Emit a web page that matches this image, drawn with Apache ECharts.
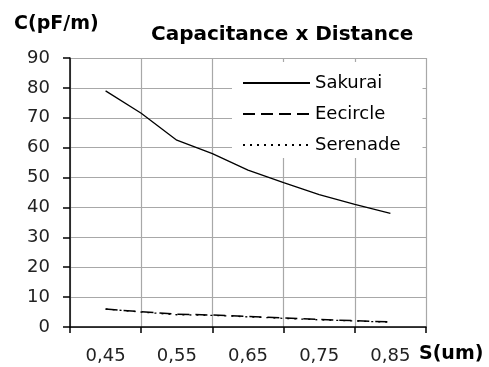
<!DOCTYPE html>
<html>
<head>
<meta charset="utf-8">
<script src="https://cdn.jsdelivr.net/npm/echarts@6/dist/echarts.min.js"></script>
<style>html,body{margin:0;padding:0;background:#fff;}#c{width:489px;height:367px;}</style>
</head>
<body>
<div id="c"></div>
<script>
const xLabels = ['0,45', '0,55', '0,65', '0,75', '0,85'];
const sValues = [0.45, 0.50, 0.55, 0.60, 0.65, 0.70, 0.75, 0.80, 0.85];
const sakurai = [79, 71.5, 62.5, 58, 52.5, 48.3, 44.3, 41, 38];
const eecircle = [6, 5.1, 4.3, 4.0, 3.5, 3.0, 2.5, 2.1, 1.7];
const serenade = [6, 5.0, 4.1, 3.9, 3.4, 2.9, 2.4, 2.0, 1.6];
const yTicks = { min: 0, max: 90, interval: 10 };

const FONT = 'DejaVu Sans';
const pairs = arr => sValues.map((s, i) => [s, arr[i]]);

const chart = echarts.init(document.getElementById('c'), null, { renderer: 'canvas' });
chart.setOption({
  backgroundColor: '#fff',
  animation: false,
  title: [
    { text: 'Capacitance x Distance', left: 146, top: 20,
      textStyle: { fontFamily: FONT, fontWeight: 'bold', fontSize: 20, color: '#000' } },
    { text: 'C(pF/m)', left: 9, top: 10,
      textStyle: { fontFamily: FONT, fontWeight: 'bold', fontSize: 19, color: '#000' } },
    { text: 'S(um)', left: 414, top: 340,
      textStyle: { fontFamily: FONT, fontWeight: 'bold', fontSize: 19, color: '#000' } }
  ],
  grid: { left: 70, right: 63, top: 58, bottom: 40, containLabel: false },
  legend: {
    orient: 'vertical', left: '232px', top: '62px',
    backgroundColor: '#fff',
    padding: [12, 22, 4, 10],
    itemWidth: 67, itemHeight: 14, itemGap: 13,
    itemStyle: { opacity: 0 },
    textStyle: { fontFamily: FONT, fontSize: 18, color: '#000' },
    data: ['Sakurai', 'Eecircle', 'Serenade'],
    z: 4
  },
  xAxis: [
    {
      type: 'category', data: xLabels, boundaryGap: true,
      axisLine: { lineStyle: { color: '#000', width: 1.5 } },
      axisTick: { show: true, length: 6, lineStyle: { color: '#000', width: 1.5 } },
      splitLine: { show: true, lineStyle: { color: '#a8a8a8', width: 1.2 } },
      axisLabel: { fontFamily: FONT, fontSize: 18, color: '#222', margin: 20 }
    },
    { type: 'value', min: 0.40, max: 0.90, show: false }
  ],
  yAxis: {
    type: 'value', min: yTicks.min, max: yTicks.max, interval: yTicks.interval,
    axisLine: { show: true, lineStyle: { color: '#000', width: 1.5 } },
    axisTick: { show: true, length: 7, lineStyle: { color: '#000', width: 1.5 } },
    splitLine: { show: true, lineStyle: { color: '#a8a8a8', width: 1.2 } },
    axisLabel: { fontFamily: FONT, fontSize: 18, color: '#222', margin: 20 }
  },
  series: [
    { name: 'Sakurai', type: 'line', xAxisIndex: 1, data: pairs(sakurai), symbol: 'none',
      lineStyle: { color: '#000', width: 1.3, type: 'solid' }, itemStyle: { color: '#000' }, z: 5 },
    { name: 'Eecircle', type: 'line', xAxisIndex: 1, data: pairs(eecircle), symbol: 'none',
      lineStyle: { color: '#000', width: 1.5, type: [12, 6] }, itemStyle: { color: '#000' }, z: 5 },
    { name: 'Serenade', type: 'line', xAxisIndex: 1, data: pairs(serenade), symbol: 'none',
      lineStyle: { color: '#000', width: 1.3, type: [2, 5] }, itemStyle: { color: '#000' }, z: 5 }
  ]
});
</script>
</body>
</html>
